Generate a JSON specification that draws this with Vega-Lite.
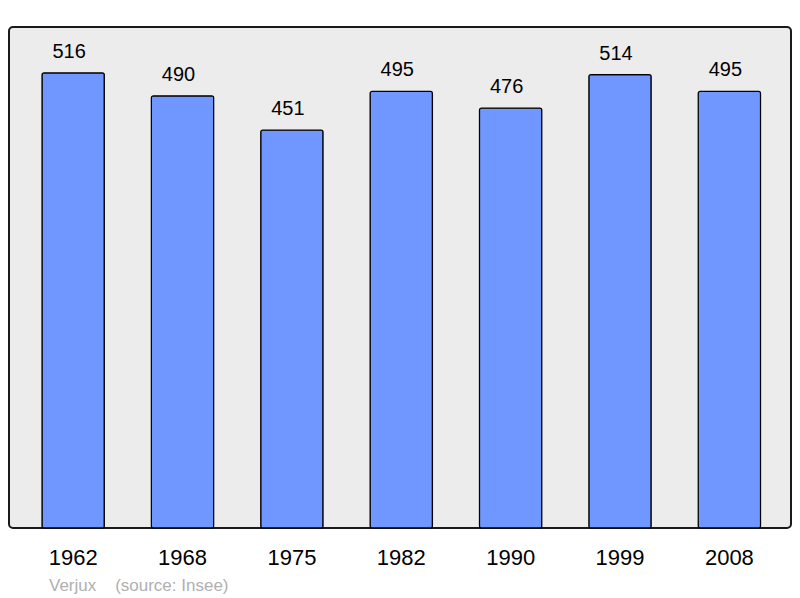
{
  "$schema": "https://vega.github.io/schema/vega-lite/v6.json",
  "autosize": "none",
  "width": 782,
  "height": 501,
  "padding": {"left": 9, "top": 27, "right": 9, "bottom": 70},
  "background": "#ffffff",
  "config": {
    "view": {"fill": "#ececec", "stroke": "#1a1a1a", "strokeWidth": 2, "cornerRadius": 4},
    "font": "Liberation Sans"
  },
  "title": {
    "text": "Verjux\u00a0\u00a0\u00a0\u00a0(source: Insee)",
    "orient": "bottom",
    "anchor": "start",
    "fontSize": 17,
    "fontWeight": "normal",
    "color": "#b0b0b0",
    "font": "Liberation Sans",
    "dx": 40,
    "offset": 10
  },
  "data": {
    "values": [
      {"year": "1962", "pop": 516},
      {"year": "1968", "pop": 490},
      {"year": "1975", "pop": 451},
      {"year": "1982", "pop": 495},
      {"year": "1990", "pop": 476},
      {"year": "1999", "pop": 514},
      {"year": "2008", "pop": 495}
    ]
  },
  "encoding": {
    "x": {
      "field": "year",
      "type": "nominal",
      "sort": null,
      "scale": {"paddingInner": 0.43, "paddingOuter": 0.29, "align": 0.52},
      "axis": {
        "title": null,
        "domain": false,
        "ticks": false,
        "labelAngle": 0,
        "labelFontSize": 22,
        "labelColor": "#000000",
        "labelFont": "Liberation Sans",
        "labelBaseline": "alphabetic",
        "labelPadding": 36
      }
    },
    "y": {
      "field": "pop",
      "type": "quantitative",
      "scale": {"domain": [0, 568], "nice": false},
      "axis": null
    }
  },
  "layer": [
    {
      "mark": {"type": "bar", "fill": "#7096ff", "stroke": "#000000", "strokeWidth": 1.2, "cornerRadius": 2}
    },
    {
      "mark": {"type": "text", "fontSize": 20, "baseline": "alphabetic", "dy": -15, "dx": -4, "color": "#000000", "font": "Liberation Sans"},
      "encoding": {"text": {"field": "pop", "type": "quantitative"}}
    }
  ]
}
